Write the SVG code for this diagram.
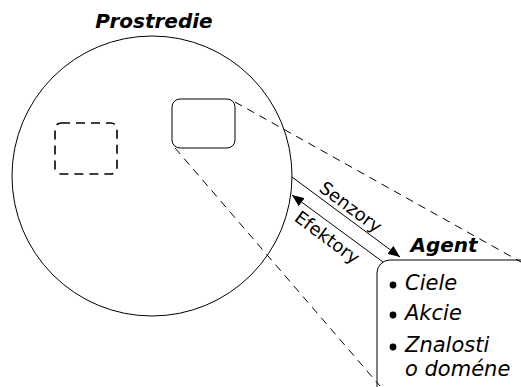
<svg xmlns="http://www.w3.org/2000/svg" width="521" height="387" viewBox="0 0 521 387">
  <style>
    .edge { fill: none; stroke: #000; stroke-width: 1; }
    .dash { fill: none; stroke: #000; stroke-width: 1; stroke-dasharray: 8 6; }
    .dash-box { fill: none; stroke: #000; stroke-width: 1.6; stroke-dasharray: 9 6; }
    .title { font-family: "DejaVu Sans", sans-serif; font-weight: bold; font-style: italic; font-size: 20px; fill: #000; }
    .item { font-family: "DejaVu Sans", sans-serif; font-style: italic; font-size: 21px; fill: #000; }
    .lbl { font-family: "DejaVu Sans", sans-serif; font-size: 18px; fill: #000; }
  </style>
  <defs>
    <marker id="arrow" viewBox="0 0 12 10" refX="12" refY="5" markerWidth="12" markerHeight="10" markerUnits="userSpaceOnUse" orient="auto">
      <path d="M0,0 L12,5 L0,10 Z" fill="#000"/>
    </marker>
  </defs>

  <!-- environment -->
  <g id="environment">
    <circle cx="152" cy="176" r="140" class="edge"/>
    <text x="154" y="28" text-anchor="middle" class="title">Prostredie</text>
  </g>

  <!-- another agent (dashed placeholder) -->
  <g id="other-agent">
    <rect x="55" y="123" width="62" height="51" rx="6" class="dash-box"/>
  </g>

  <!-- the agent inside the environment -->
  <g id="agent-small">
    <rect x="172" y="99" width="63" height="49" rx="8" class="edge"/>
  </g>

  <!-- zoomed-in agent -->
  <g id="agent">
    <rect x="377" y="260" width="170" height="150" rx="13" class="edge"/>
    <text x="444" y="252" text-anchor="middle" class="title">Agent</text>
    <circle cx="393" cy="285" r="3.4"/>
    <text x="405" y="290" class="item">Ciele</text>
    <circle cx="393" cy="315" r="3.4"/>
    <text x="405" y="320" class="item">Akcie</text>
    <circle cx="393" cy="347" r="3.4"/>
    <text x="405" y="352" class="item">Znalosti</text>
    <text x="405" y="376" class="item">o doméne</text>
  </g>

  <!-- connectors -->
  <g id="connectors">
    <line x1="235" y1="102" x2="521" y2="262" class="dash"/>
    <line x1="175" y1="148" x2="380" y2="386" class="dash"/>
    <line x1="292" y1="177" x2="400" y2="257" class="edge" marker-end="url(#arrow)"/>
    <line x1="383" y1="262" x2="292" y2="195" class="edge" marker-end="url(#arrow)"/>
    <text transform="translate(347,212) rotate(36.5)" text-anchor="middle" class="lbl">Senzory</text>
    <text transform="translate(323.5,242.5) rotate(36.5)" text-anchor="middle" class="lbl">Efektory</text>
  </g>
</svg>
